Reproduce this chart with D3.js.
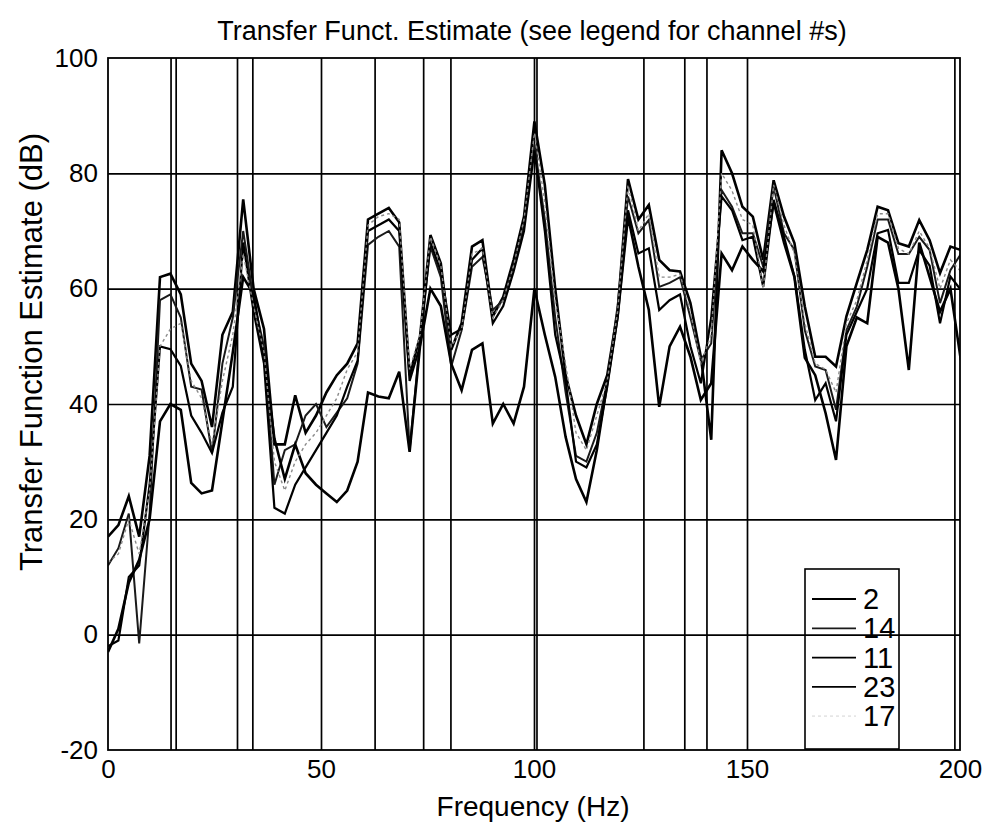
<!DOCTYPE html>
<html lang="en">
<head>
<meta charset="UTF-8">
<title>Transfer Funct. Estimate</title>
<script src="https://d3js.org/d3.v7.min.js"></script>
<style>
  body { margin: 0; background: #fff; }
  text { font-family: "Liberation Sans", Arial, sans-serif; fill: #000; }
</style>
</head>
<body>
<div id="chart"></div>
<script>

// frequency step between estimate points (Hz)
const df = 2.4414;

// transfer function estimates (dB), one value per frequency bin
const ch2  = [17, 19, 24, 17, 31, 62, 62.6, 59, 47, 44, 36, 52, 56, 75.5, 60, 53, 33, 33, 41.5, 35,
              38, 42, 45, 47, 50.5, 72, 73, 74, 71.5, 45, 51.7, 69.3, 64.4, 49.4, 54, 67.3, 68.4, 55.2, 58.6, 65,
              72.5, 89, 78, 60, 45, 38, 33, 40, 45, 56, 79, 72, 74.5, 65, 63.2, 63, 57.5, 48.2, 33.8, 84,
              80, 74.2, 72.5, 65, 78.8, 72.5, 67.9, 56.9, 48.2, 48.2, 46.5, 55.2, 61, 66.7, 74.2, 73.6, 67.9, 67.3, 71.9, 68.4,
              62.7, 67.3, 66.7];
const ch14 = [12, 15, 21, -1.5, 21, 58, 59, 55, 43, 42.5, 31.5, 47, 55, 70, 58, 50, 26, 32, 33, 38,
              40, 36, 38.5, 41, 47, 67.6, 69, 70, 67.3, 32, 51, 67.3, 62, 46.5, 52.8, 63.8, 65.5, 56.3, 58, 63.8,
              71, 85, 72, 55, 42, 31, 30, 35, 44, 57, 76, 69.6, 71.9, 60.3, 61, 62, 55, 47.6, 50.5, 77.1,
              74.2, 69.6, 69.6, 63.8, 77.7, 69.6, 66.7, 52.8, 46.5, 45.9, 39, 52.8, 56.9, 63.8, 72, 72, 66, 66, 69, 66.7,
              57.5, 63.2, 66];
const ch11 = [-2, -1, 10, 12, 26, 50, 49.5, 46.6, 38, 35, 31.5, 38.5, 43, 68, 56, 47, 22, 21, 26, 29,
              32, 35, 38, 43, 47.5, 70, 71, 72, 70, 44, 50, 68, 63, 52, 53, 65, 67, 54, 57, 63,
              70, 84, 70, 52, 44, 30, 29, 33, 43, 55, 73.6, 66.1, 67, 56.3, 58, 59, 50, 43.6, 55, 76,
              73.6, 68.4, 69, 60.3, 75.4, 69, 62.1, 49.4, 40.7, 43.6, 37, 52, 56, 60, 69.6, 70.2, 61, 61, 66.7, 64,
              54, 62.1, 59.8];
const ch23 = [-3, 1, 9, 13, 20, 37, 40, 39, 26.3, 24.5, 25, 37, 49, 62, 59, 48, 34, 27, 33, 28,
              26, 24.5, 23, 25, 30, 42, 41.3, 41, 45.6, 31.7, 50, 60, 57, 47, 42.4, 49.4, 50.5, 36.6, 40, 36.6,
              43, 60, 52, 44.7, 34.3, 27, 23, 32, 43.6, 55.2, 72.5, 63.8, 56.3, 39.5, 50, 53.4, 48.2, 40.7, 43.6, 66.1,
              63.2, 67.3, 65, 63, 75, 68, 62, 48, 45, 38.4, 30.3, 50, 55, 54, 69, 68, 60, 45.9, 68, 62,
              56, 60, 47.6];
const ch17 = [12.5, 14, 20, 14, 25, 50, 53, 54, 44, 41, 33, 44, 52, 66, 57, 49, 30, 25, 30, 33,
              35, 38, 41, 46, 49, 71, 72.5, 73, 72, 46, 52, 69, 64, 50, 53, 66, 67, 55, 58, 64,
              72, 87, 75, 58, 47, 35, 32, 38, 44, 56, 78, 70, 73, 62, 62, 62.5, 56, 47, 52, 80,
              77, 72, 71, 60, 78, 71, 66, 54, 47, 46, 42, 54, 58, 65, 73, 73, 67, 66, 70, 67,
              60, 65, 63];

const channels = ["2", "14", "11", "23", "17"];
const seriesValues = [ch2, ch14, ch11, ch23, ch17];

// vertical reference lines drawn full height (Hz)
const markerFreqs = [14.8, 16.0, 30.4, 34.0, 62.7, 74.1, 80.5, 100.7, 125.8, 135.4, 140.6, 198.8];

const xTicks = [0, 50, 100, 150, 200];
const yTicks = [-20, 0, 20, 40, 60, 80, 100];

const W = 989, H = 830;
const margin = {left: 108, right: 29, top: 58, bottom: 80};
const plotW = W - margin.left - margin.right;
const plotH = H - margin.top - margin.bottom;

const x = d3.scaleLinear([0, 200], [margin.left, margin.left + plotW]);
const y = d3.scaleLinear([-20, 100], [margin.top + plotH, margin.top]);

const styles = [
    {stroke: "#000", width: 2.6, dash: null},
    {stroke: "#1a1a1a", width: 2.0, dash: null},
    {stroke: "#000", width: 2.2, dash: null},
    {stroke: "#000", width: 2.6, dash: null},
    {stroke: "#8a8a8a", width: 1.4, dash: "3,3"}
];

const svg = d3.select("#chart")
    .append("svg")
    .attr("width", W)
    .attr("height", H)
    .attr("viewBox", [0, 0, W, H])
    .style("display", "block");

svg.append("defs").append("clipPath")
    .attr("id", "plotClip")
    .append("rect")
    .attr("x", margin.left).attr("y", margin.top)
    .attr("width", plotW).attr("height", plotH);

// grid: horizontal
svg.append("g")
    .attr("transform", `translate(${margin.left},0)`)
    .call(d3.axisLeft(y).tickValues(yTicks.slice(1, -1)).tickSize(-plotW).tickFormat(""))
    .call(g => g.select(".domain").remove())
    .call(g => g.selectAll("line").attr("stroke", "#000").attr("stroke-width", 1.7));

// grid: vertical
svg.append("g")
    .attr("transform", `translate(0,${margin.top + plotH})`)
    .call(d3.axisBottom(x).tickValues(xTicks.slice(1, -1)).tickSize(-plotH).tickFormat(""))
    .call(g => g.select(".domain").remove())
    .call(g => g.selectAll("line").attr("stroke", "#000").attr("stroke-width", 1.7));

// marker lines
svg.append("g")
    .selectAll("line")
    .data(markerFreqs)
    .join("line")
    .attr("x1", d => x(d)).attr("x2", d => x(d))
    .attr("y1", y(100)).attr("y2", y(-20))
    .attr("stroke", "#000")
    .attr("stroke-width", 1.7);

// data
const freqs = d3.range(ch2.length).map(i => i * df);
const line = d3.line()
    .x((d, i) => x(freqs[i]))
    .y(d => y(d));

const gLines = svg.append("g").attr("clip-path", "url(#plotClip)");
seriesValues.forEach((vals, k) => {
    gLines.append("path")
        .attr("d", line(vals))
        .attr("fill", "none")
        .attr("stroke", styles[k].stroke)
        .attr("stroke-width", styles[k].width)
        .attr("stroke-dasharray", styles[k].dash)
        .attr("stroke-linejoin", "miter");
});

// frame
svg.append("rect")
    .attr("x", margin.left).attr("y", margin.top)
    .attr("width", plotW).attr("height", plotH)
    .attr("fill", "none")
    .attr("stroke", "#000")
    .attr("stroke-width", 1.8);

// tick labels (plain hyphen for negatives, as in the original)
svg.append("g")
    .attr("transform", `translate(0,${margin.top + plotH})`)
    .call(d3.axisBottom(x).tickValues(xTicks).tickSize(0).tickPadding(10).tickFormat(d => String(d)))
    .call(g => g.select(".domain").remove())
    .call(g => g.selectAll("text")
        .attr("font-size", 26)
        .attr("font-family", "'Liberation Sans', Arial, sans-serif")
        .attr("fill", "#000"));

svg.append("g")
    .attr("transform", `translate(${margin.left},0)`)
    .call(d3.axisLeft(y).tickValues(yTicks).tickSize(0).tickPadding(10).tickFormat(d => String(d)))
    .call(g => g.select(".domain").remove())
    .call(g => g.selectAll("text")
        .attr("font-size", 26)
        .attr("font-family", "'Liberation Sans', Arial, sans-serif")
        .attr("fill", "#000"));

// titles
svg.append("text")
    .attr("x", 532).attr("y", 40)
    .attr("text-anchor", "middle")
    .attr("font-size", 27)
    .text("Transfer Funct. Estimate (see legend for channel #s)");

svg.append("text")
    .attr("x", 533).attr("y", 816)
    .attr("text-anchor", "middle")
    .attr("font-size", 28)
    .text("Frequency (Hz)");

svg.append("text")
    .attr("transform", `translate(42,352) rotate(-90)`)
    .attr("text-anchor", "middle")
    .attr("font-size", 31)
    .text("Transfer Function Estimate (dB)");

// legend
const legX = 805, legY = 569, legW = 94, legH = 180, rowH = 29.3;
const leg = svg.append("g");
leg.append("rect")
    .attr("x", legX).attr("y", legY)
    .attr("width", legW).attr("height", legH)
    .attr("fill", "none")
    .attr("stroke", "#000")
    .attr("stroke-width", 1.6);

channels.forEach((name, k) => {
    const cy = legY + 30 + k * rowH;
    leg.append("line")
        .attr("x1", legX + 7).attr("x2", legX + 51)
        .attr("y1", cy).attr("y2", cy)
        .attr("stroke", k === 4 ? "#e6e6e6" : styles[k].stroke)
        .attr("stroke-width", 1.8)
        .attr("stroke-dasharray", styles[k].dash);
    leg.append("text")
        .attr("x", legX + 58).attr("y", cy + 10)
        .attr("font-size", 29)
        .text(name);
});

</script>
</body>
</html>
